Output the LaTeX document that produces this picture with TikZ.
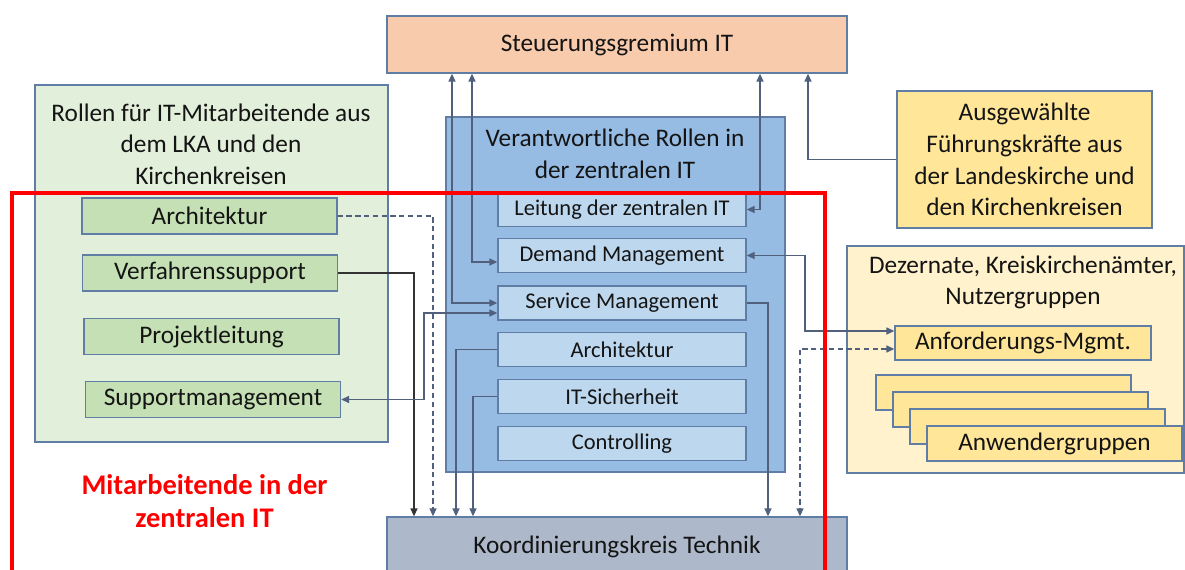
\documentclass[tikz,border=0pt]{standalone}
\usepackage{fontspec}
\setmainfont{Carlito}
\usetikzlibrary{arrows.meta}
\definecolor{steer}{RGB}{248,203,173}
\definecolor{koord}{RGB}{173,185,202}
\definecolor{greenout}{RGB}{226,239,218}
\definecolor{greenin}{RGB}{197,224,180}
\definecolor{blueout}{RGB}{150,188,228}
\definecolor{bluein}{RGB}{189,215,238}
\definecolor{gold}{RGB}{255,230,153}
\definecolor{goldlight}{RGB}{255,242,204}
\definecolor{edge}{RGB}{95,125,165}
\definecolor{link}{RGB}{80,96,125}
\definecolor{ink}{RGB}{20,20,20}
\tikzset{
  kbox/.style={draw=edge,line width=0.8pt,text=ink,align=center,inner sep=0pt,
    font=\fontsize{14.4}{18}\selectfont},
  kgreen/.style={kbox,fill=greenin,minimum width=5.1cm,minimum height=0.72cm},
  ksmall/.style={kbox,fill=bluein,minimum width=4.96cm,minimum height=0.68cm,
    font=\fontsize{12.8}{15}\selectfont},
  kgold/.style={kbox,fill=gold,minimum width=5.1cm,minimum height=0.7cm},
  ktext/.style={text=ink,align=center,font=\fontsize{14.4}{18}\selectfont},
  klink/.style={link,line width=0.7pt},
  kdark/.style={black!80,line width=0.7pt},
  kdash/.style={klink,dash pattern=on 3pt off 2pt},
}

\begin{document}
\begin{tikzpicture}[x=0.02cm,y=-0.02cm,>={Triangle[length=4.5pt,width=4pt]}]
  \clip (0,0) rectangle (1185,570);
  % committees at top and bottom
  \node[kbox,fill=steer,minimum width=9.2cm,minimum height=1.14cm] (steu) at (617,44.5) {Steuerungsgremium IT};
  \node[kbox,fill=koord,minimum width=9.2cm,minimum height=1.2cm] (koord) at (617,547) {Koordinierungskreis Technik};

  % roles from LKA and Kirchenkreise
  \node[kbox,fill=greenout,minimum width=7.06cm,minimum height=7.14cm] (lka) at (211.5,263.5) {};
  \node[ktext] (lkatitle) at (211,144) {Rollen für IT-Mitarbeitende aus\\dem LKA und den\\Kirchenkreisen};
  \node[kgreen] (garc) at (209.5,216) {Architektur};
  \node[kgreen] (verf) at (210,273) {Verfahrenssupport};
  \node[kgreen] (proj) at (211.5,336.5) {Projektleitung};
  \node[kgreen] (supp) at (213,399.5) {Supportmanagement};

  % central IT
  \node[kbox,fill=blueout,minimum width=6.78cm,minimum height=7.1cm] (zit) at (615.5,294.5) {};
  \node[ktext] (zittitle) at (615,154) {Verantwortliche Rollen in\\der zentralen IT};
  \foreach \n/\y/\t in {lei/209.5/Leitung der zentralen IT,dem/255.5/Demand Management,
                        svc/303/Service Management,arc/349.5/Architektur,
                        sich/396.5/IT-Sicherheit,ctrl/443.5/Controlling}
    \node[ksmall] (\n) at (622,\y) {\t};

  % right hand side
  \node[kbox,fill=gold,minimum width=5.1cm,minimum height=2.74cm] (fk) at (1024.5,159.5)
    {Ausgewählte\\Führungskräfte aus\\der Landeskirche und\\den Kirchenkreisen};
  \node[kbox,fill=goldlight,minimum width=6.74cm,minimum height=4.54cm] (dez) at (1015.5,359.5) {};
  \node[ktext] (deztitle) at (1023,282.5) {Dezernate, Kreiskirchenämter,\\Nutzergruppen};
  \node[kgold,minimum width=5.12cm,minimum height=0.68cm] (anf) at (1023,343) {Anforderungs-Mgmt.};
  \foreach \i in {0,1,2}
    \node[kgold] (grp\i) at (1003.5+17*\i,392.5+17*\i) {};
  \node[kgold] (anw) at (1054.5,443.5) {Anwendergruppen};

  % connectors
  \draw[klink,<->] (steu.south -| 452,0) |- (svc.west);
  \draw[klink,<->] (steu.south -| 472,0) |- (dem.west |- 0,262);
  \draw[klink,<->] (steu.south -| 760,0) |- (lei.east);
  \draw[klink,->] (fk.west) -| (steu.south -| 808,0);
  \draw[klink,<->] (dem.east) -| (805,331) -- (anf.west |- 0,331);
  \draw[kdash,<->] (anf.west |- 0,349) -| (koord.north -| 800,0);
  \draw[klink,->] (svc.east) -| (koord.north -| 768,0);
  \draw[klink,->] (arc.west) -| (koord.north -| 456,0);
  \draw[klink,->] (sich.west) -| (koord.north -| 473,0);
  \draw[kdark,->] (verf.east) -| (koord.north -| 414,0);
  \draw[kdash,->] (garc.east) -| (koord.north -| 433,0);
  \draw[klink,<->] (supp.east) -| (424,313) -- (svc.west |- 0,313);

  % staff of the central IT
  \draw[red,line width=1.8pt] (12,600) |- (825,193) -- (825,600);
  \node[ktext,text=red,font=\fontsize{16.2}{19}\selectfont\bfseries] (mit) at (204.5,501) {Mitarbeitende in der\\zentralen IT};
\end{tikzpicture}
\end{document}
